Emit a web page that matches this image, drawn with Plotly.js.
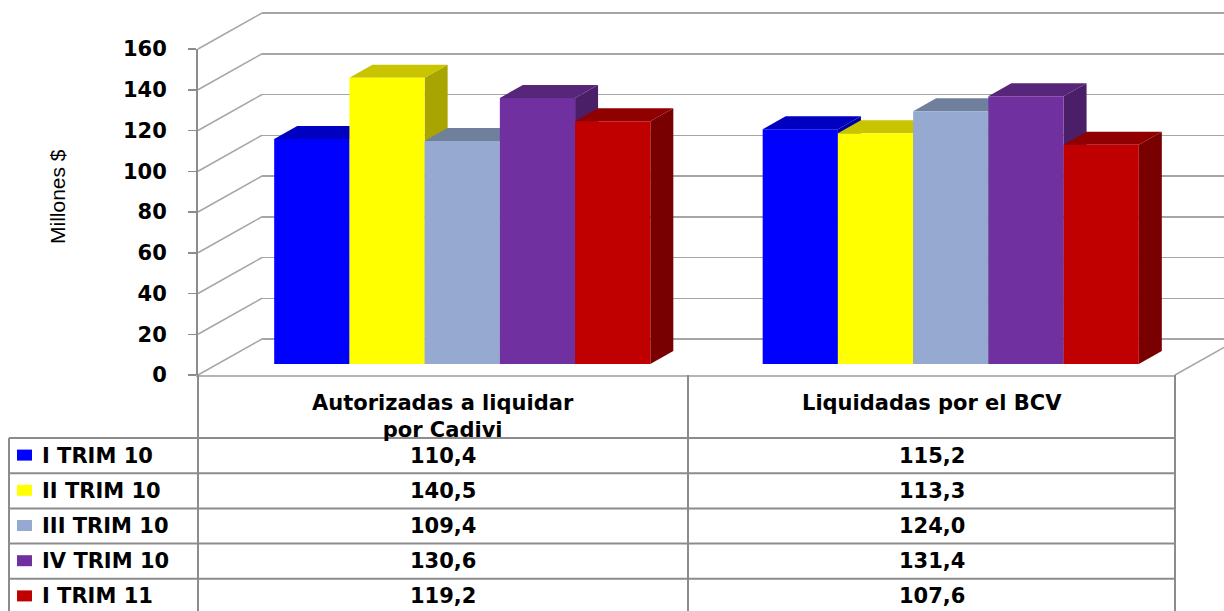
<!DOCTYPE html>
<html>
<head>
<meta charset="utf-8">
<script src="https://cdn.plot.ly/plotly-3.0.1.min.js"></script>
<style>html,body{margin:0;padding:0;background:#fff;}#chart{width:1224px;height:611px;}</style>
</head>
<body>
<div id="chart"></div>
<script>
// ---------- DATA ----------
const categories = ["Autorizadas a liquidar por Cadivi", "Liquidadas por el BCV"];
const headerLabels = ["Autorizadas a liquidar<br>por Cadivi", "Liquidadas por el BCV"];
const seriesNames = ["I TRIM 10", "II TRIM 10", "III TRIM 10", "IV TRIM 10", "I TRIM 11"];
const autorizadas = [110.4, 140.5, 109.4, 130.6, 119.2];
const liquidadas  = [115.2, 113.3, 124.0, 131.4, 107.6];
const tickValues = [0, 20, 40, 60, 80, 100, 120, 140, 160];
const yTitle = "Millones $";

// ---------- STYLE ----------
const frontColors = ["#0000FF", "#FFFF00", "#95A9D1", "#7030A0", "#C00000"];
const topColors   = ["#0000C0", "#C8C400", "#6F7F9C", "#572579", "#900000"];
const sideColors  = ["#0000A0", "#A8A400", "#5E6C86", "#4A1F68", "#780000"];

// ---------- GEOMETRY (layout, px) ----------
const W = 1224, H = 611;
const px = x => x / W, py = y => (H - y) / H;
const F = {l: 198, r: 1175, b: 375, t: 49};   // front plane
const BAR = {dx: 20, dy: 11};                  // bar plane offset
const BACK = {dx: 64, dy: 36};                 // back wall offset
const DEPTH = {dx: 23, dy: 13};                // bar depth
const yMax = 160;
const bargap = 0.23;
const gridColor = "#a6a6a6";
const lineColor = "#8c8c8c";
const boldFont = {family: "DejaVu Sans, Verdana, sans-serif", size: 21, color: "#000", weight: "bold"};

const xIdx = categories.map((c, i) => i);
const seriesValues = seriesNames.map((n, j) => [autorizadas[j], liquidadas[j]]);

// empty helper traces create the back-wall (xy) and front-plane (x3y3) subplots
const traces = [{type: "scatter", x: [], y: [], xaxis: "x", yaxis: "y", hoverinfo: "skip", showlegend: false}];
seriesNames.forEach((name, j) => traces.push({
  type: "bar", name: name, x: xIdx, y: seriesValues[j],
  xaxis: "x2", yaxis: "y2",
  marker: {color: frontColors[j], line: {width: 0}},
  hoverinfo: "skip"
}));
traces.push({type: "scatter", x: [], y: [], xaxis: "x3", yaxis: "y3", hoverinfo: "skip", showlegend: false});

// 3D faces computed from the data via the bar axes
const pxPerX = (F.r - F.l) / 2, pxPerY = (F.b - F.t) / yMax;
const ddx = DEPTH.dx / pxPerX, ddy = DEPTH.dy / pxPerY;
const groupW = 1 - bargap, bw = groupW / seriesNames.length;
const sides = [], tops = [];
xIdx.forEach(c => {
  seriesNames.forEach((n, j) => {
    const v = seriesValues[j][c];
    const L = c - groupW / 2 + j * bw, R = L + bw;
    sides.push({type: "path", xref: "x2", yref: "y2", layer: "below",
      path: `M${R},0 L${R + ddx},${ddy} L${R + ddx},${v + ddy} L${R},${v} Z`,
      fillcolor: sideColors[j], line: {width: 0}});
    tops.push({type: "path", xref: "x2", yref: "y2", layer: "below",
      path: `M${L},${v} L${L + ddx},${v + ddy} L${R + ddx},${v + ddy} L${R},${v} Z`,
      fillcolor: topColors[j], line: {width: 0}});
  });
});

const shapes = [...sides, ...tops];

// left wall diagonals (front tick level -> back wall tick level)
tickValues.forEach(v => {
  const yf = F.b - v * pxPerY;
  shapes.push({type: "line", xref: "paper", yref: "paper",
    x0: px(F.l), x1: px(F.l + BACK.dx), y0: py(yf), y1: py(yf - BACK.dy),
    line: {color: gridColor, width: 1.5}, layer: "below"});
});
// right floor edge
shapes.push({type: "line", xref: "paper", yref: "paper",
  x0: px(F.r), y0: py(F.b), x1: 1, y1: py(F.b - BACK.dy * (W - F.r) / BACK.dx),
  line: {color: gridColor, width: 1.5}});

// ---------- TABLE ----------
const T = {left: 9, headBottom: 438, rowH: 35.2, bottom: 614, colDiv: 688};
const annotations = [];
const colCenters = [(F.l + T.colDiv) / 2, (T.colDiv + F.r) / 2];
[[F.l, F.b], [T.colDiv, F.b], [F.r, F.b], [T.left, T.headBottom]].forEach(([x, y0]) => {
  shapes.push({type: "line", xref: "paper", yref: "paper", x0: px(x), x1: px(x), y0: py(y0), y1: py(T.bottom),
    line: {color: lineColor, width: 2}});
});
for (let k = 0; k <= seriesNames.length; k++) {
  const y = T.headBottom + k * T.rowH;
  shapes.push({type: "line", xref: "paper", yref: "paper", x0: px(T.left), x1: px(F.r), y0: py(y), y1: py(y),
    line: {color: lineColor, width: 2}});
}
headerLabels.forEach((lab, c) => {
  annotations.push({xref: "paper", yref: "paper", x: px(colCenters[c]), y: py(389),
    text: lab, showarrow: false, xanchor: "center", yanchor: "top", align: "center", font: boldFont});
});
seriesNames.forEach((name, j) => {
  const yc = T.headBottom + (j + 0.5) * T.rowH;
  shapes.push({type: "rect", xref: "paper", yref: "paper", x0: px(17), x1: px(32), y0: py(yc - 6), y1: py(yc + 5),
    fillcolor: frontColors[j], line: {width: 0}});
  annotations.push({xref: "paper", yref: "paper", x: px(40), y: py(yc), text: name, showarrow: false,
    xanchor: "left", yanchor: "middle", font: boldFont});
  seriesValues[j].forEach((v, c) => {
    annotations.push({xref: "paper", yref: "paper", x: px(colCenters[c]), y: py(yc), showarrow: false,
      text: v.toFixed(1).replace(".", ","), xanchor: "center", yanchor: "middle", font: boldFont});
  });
});
annotations.push({xref: "paper", yref: "paper", x: px(58), y: py(197), text: yTitle, textangle: -90,
  showarrow: false, xanchor: "center", yanchor: "middle",
  font: {family: "Liberation Sans, Arial, sans-serif", size: 21, color: "#000"}});

// back wall axis padded by one unit each side so the 0 and 160 grid lines are drawn
const pad = 1;
const layout = {
  width: W, height: H, margin: {l: 0, r: 0, t: 0, b: 0},
  paper_bgcolor: "#ffffff", plot_bgcolor: "rgba(0,0,0,0)",
  showlegend: false, barmode: "group", bargap: bargap, bargroupgap: 0,
  // back wall
  xaxis: {domain: [px(F.l + BACK.dx), 1], range: [0, 1], showticklabels: false, ticks: "", showgrid: false,
    zeroline: false, showline: false, anchor: "y"},
  yaxis: {domain: [py(F.b - BACK.dy + pad * pxPerY), py(F.t - BACK.dy - pad * pxPerY)],
    range: [-pad, yMax + pad], tickvals: tickValues,
    showticklabels: false, ticks: "", showgrid: true, gridcolor: gridColor, gridwidth: 1.5,
    zeroline: false, showline: false, anchor: "x"},
  // bars plane
  xaxis2: {domain: [px(F.l + BAR.dx), px(F.r + BAR.dx)], range: [-0.5, 1.5], visible: false, anchor: "y2"},
  yaxis2: {domain: [py(F.b - BAR.dy), py(F.t - BAR.dy)], range: [0, yMax], visible: false, anchor: "x2"},
  // front plane
  xaxis3: {domain: [px(F.l), px(F.r)], range: [-0.5, 1.5], showline: true, linecolor: "#b4b4b4", linewidth: 1.5,
    showticklabels: false, ticks: "", showgrid: false, zeroline: false, anchor: "y3"},
  yaxis3: {domain: [py(F.b), py(F.t)], range: [0, yMax], tickvals: tickValues, ticks: "outside", ticklen: 8,
    tickcolor: lineColor, tickwidth: 1.5, showline: true, linecolor: lineColor, linewidth: 2,
    showgrid: false, zeroline: false, anchor: "x3", tickfont: boldFont, ticklabelstandoff: 17},
  shapes: shapes, annotations: annotations
};

Plotly.newPlot("chart", traces, layout, {displayModeBar: false, staticPlot: true});
</script>
</body>
</html>
